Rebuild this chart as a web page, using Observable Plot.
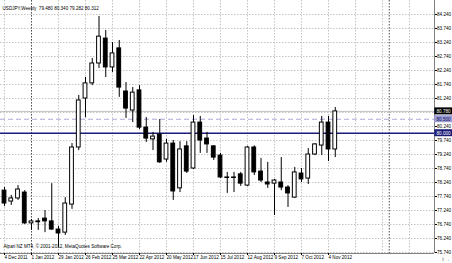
<!DOCTYPE html>
<html><head><meta charset="utf-8">
<script src="https://cdn.jsdelivr.net/npm/d3@7"></script>
<script src="https://cdn.jsdelivr.net/npm/@observablehq/plot@0.6"></script>
<style>
html,body{margin:0;padding:0;background:#fff;overflow:hidden;}
#chart svg{display:block;}
</style></head><body><div id="chart"></div>
<script>
// Weekly USDJPY bars, week index 0 = 4 Dec 2011
const openP  = [77.95,77.56,77.67,77.88,76.78,76.85,76.95,76.85,76.56,76.45,77.45,79.49,81.24,81.78,82.49,83.38,82.35,83.03,81.49,80.81,81.53,80.20,79.78,79.95,79.06,79.63,78.03,79.53,78.74,80.38,79.81,79.53,79.20,78.42,78.40,78.53,78.13,79.49,78.63,78.24,78.20,78.24,78.06,77.70,78.56,78.38,79.24,79.56,80.38,79.42];
const highP  = [78.06,77.78,78.13,77.95,76.92,76.95,77.24,78.20,76.67,77.70,79.63,81.35,81.99,82.67,84.17,83.67,83.24,83.31,81.81,81.63,81.70,80.56,80.03,80.49,79.78,79.74,79.70,79.70,80.63,80.60,80.03,79.56,79.28,78.60,78.60,78.60,79.53,79.55,79.10,78.96,78.35,79.13,78.13,78.78,78.74,79.45,79.63,80.60,80.60,80.92];
const lowP   = [77.38,77.42,77.60,76.74,76.53,76.53,76.45,76.53,75.92,76.35,77.28,79.38,80.56,81.70,82.31,81.99,82.17,81.28,80.53,80.38,80.13,79.67,79.38,78.92,78.96,77.60,77.88,78.56,78.70,79.28,79.28,79.03,78.38,77.85,77.88,78.10,78.10,78.49,78.24,78.03,77.06,77.95,77.35,77.67,78.24,78.17,79.20,79.20,78.99,79.13];
const closeP = [77.49,77.67,77.99,76.78,76.85,76.82,76.85,76.56,76.42,77.49,79.49,81.17,81.78,82.49,83.45,82.35,82.85,81.63,80.88,81.45,80.20,79.81,79.88,78.96,79.63,77.92,79.42,78.63,80.38,79.74,79.60,79.13,78.42,78.40,78.42,78.20,79.49,78.60,78.31,78.17,78.31,78.06,77.85,78.60,78.35,79.24,79.60,80.38,79.42,80.78];

const priceTicks = [84.24,83.74,83.24,82.74,82.24,81.74,81.24,80.74,80.24,79.74,79.24,78.74,78.24,77.74,77.24,76.74,76.24,75.74];
const dateTickIdx = [0,4,8,12,16,20,24,28,32,36,40,44,48];
const dateTickLabels = ["4 Dec 2011","1 Jan 2012","29 Jan 2012","26 Feb 2012","25 Mar 2012","22 Apr 2012","20 May 2012","17 Jun 2012","15 Jul 2012","12 Aug 2012","9 Sep 2012","7 Oct 2012","4 Nov 2012"];
const gridIdx = [0,4,8,12,16,20,24,28,32,36,40,44,48,52,56,60];
const yearSeparatorIdx = [4,57];
const levelNavy = [80.0];
const levelDashed = [80.5];
const titleText = "USDJPY,Weekly  79.480 80.340 79.282 80.312";
const footerText = "Alpari NZ MT4, © 2001-2012, MetaQuotes Software Corp.";

const candles = openP.map((o, i) => ({i, open: o, high: highP[i], low: lowP[i], close: closeP[i], up: closeP[i] >= o}));
const bid = closeP[closeP.length - 1];

const W = 452, H = 263, MR = 18, MB = 10;
const pxPerBar = 6.75, firstBarX = 4;
const xDomain = [-firstBarX / pxPerBar, (W - MR - firstBarX) / pxPerBar];
const pxPerYen = 28;
const yTop = priceTicks[0] + 14 / pxPerYen;
const yBottom = priceTicks[0] - (H - MB - 14) / pxPerYen;
const xmax = xDomain[1];
const boxW = MR / pxPerBar;

const boxes = [
  {v: bid, bg: "#000000", fg: "#ffffff"},
  {v: levelDashed[0], bg: "#9c9cd8", fg: "#10104a"},
  {v: levelNavy[0], bg: "#1c1c78", fg: "#ffffff"}
];

const fs = 4.6;
const chart = Plot.plot({
  width: W, height: H,
  marginLeft: 0, marginRight: MR, marginTop: 0, marginBottom: MB,
  x: {domain: xDomain, axis: null},
  y: {domain: [yBottom, yTop], axis: null},
  style: {background: "#ffffff", fontFamily: "Liberation Sans, Arial, sans-serif", fontSize: fs + "px", color: "#000"},
  marks: [
    Plot.ruleY(priceTicks, {stroke: "#c4c4c4", strokeDasharray: "1.5,1.5"}),
    Plot.ruleX(gridIdx, {stroke: "#c4c4c4", strokeDasharray: "1.5,1.5"}),
    Plot.ruleX(yearSeparatorIdx, {stroke: "#505050", strokeDasharray: "1.5,1.5"}),
    Plot.ruleY([bid], {stroke: "#c0c0c0"}),
    Plot.ruleY(levelDashed, {stroke: "#a8a8dc", strokeDasharray: "5,3"}),
    Plot.ruleY(levelNavy, {stroke: "#1c1c78", strokeWidth: 1.6}),
    Plot.ruleX(candles, {x: "i", y1: "low", y2: "high", stroke: "#000"}),
    Plot.rect(candles, {x1: d => d.i - 0.28, x2: d => d.i + 0.28, y1: "open", y2: "close", fill: d => d.up ? "#fff" : "#000", stroke: "#000"}),
    Plot.ruleX([xmax], {stroke: "#808080"}),
    Plot.ruleY([yBottom], {stroke: "#808080"}),
    Plot.axisY(priceTicks, {anchor: "right", tickSize: 2, tickPadding: 0.5, tickFormat: d => d.toFixed(3), fontSize: fs, stroke: "#000"}),
    Plot.axisX(dateTickIdx, {anchor: "bottom", tickSize: 2, tickPadding: 0.5, textAnchor: "start", tickFormat: d => dateTickLabels[dateTickIdx.indexOf(d)], fontSize: fs}),
    Plot.rect(boxes, {x1: xmax + 0.05, x2: xmax + boxW, y1: d => d.v - 0.125, y2: d => d.v + 0.125, fill: d => d.bg}),
    Plot.text(boxes, {x: xmax + 0.3, y: "v", text: d => d.v.toFixed(3), fill: d => d.fg, textAnchor: "start", fontSize: fs}),
    Plot.text([titleText], {frameAnchor: "top-left", dx: 2, dy: 6, textAnchor: "start", fill: "#000", fontSize: fs}),
    Plot.text([footerText], {frameAnchor: "bottom-left", dx: 3, dy: -6, textAnchor: "start", fill: "#000", fontSize: fs})
  ]
});
document.getElementById("chart").appendChild(chart);
</script>
</body></html>
